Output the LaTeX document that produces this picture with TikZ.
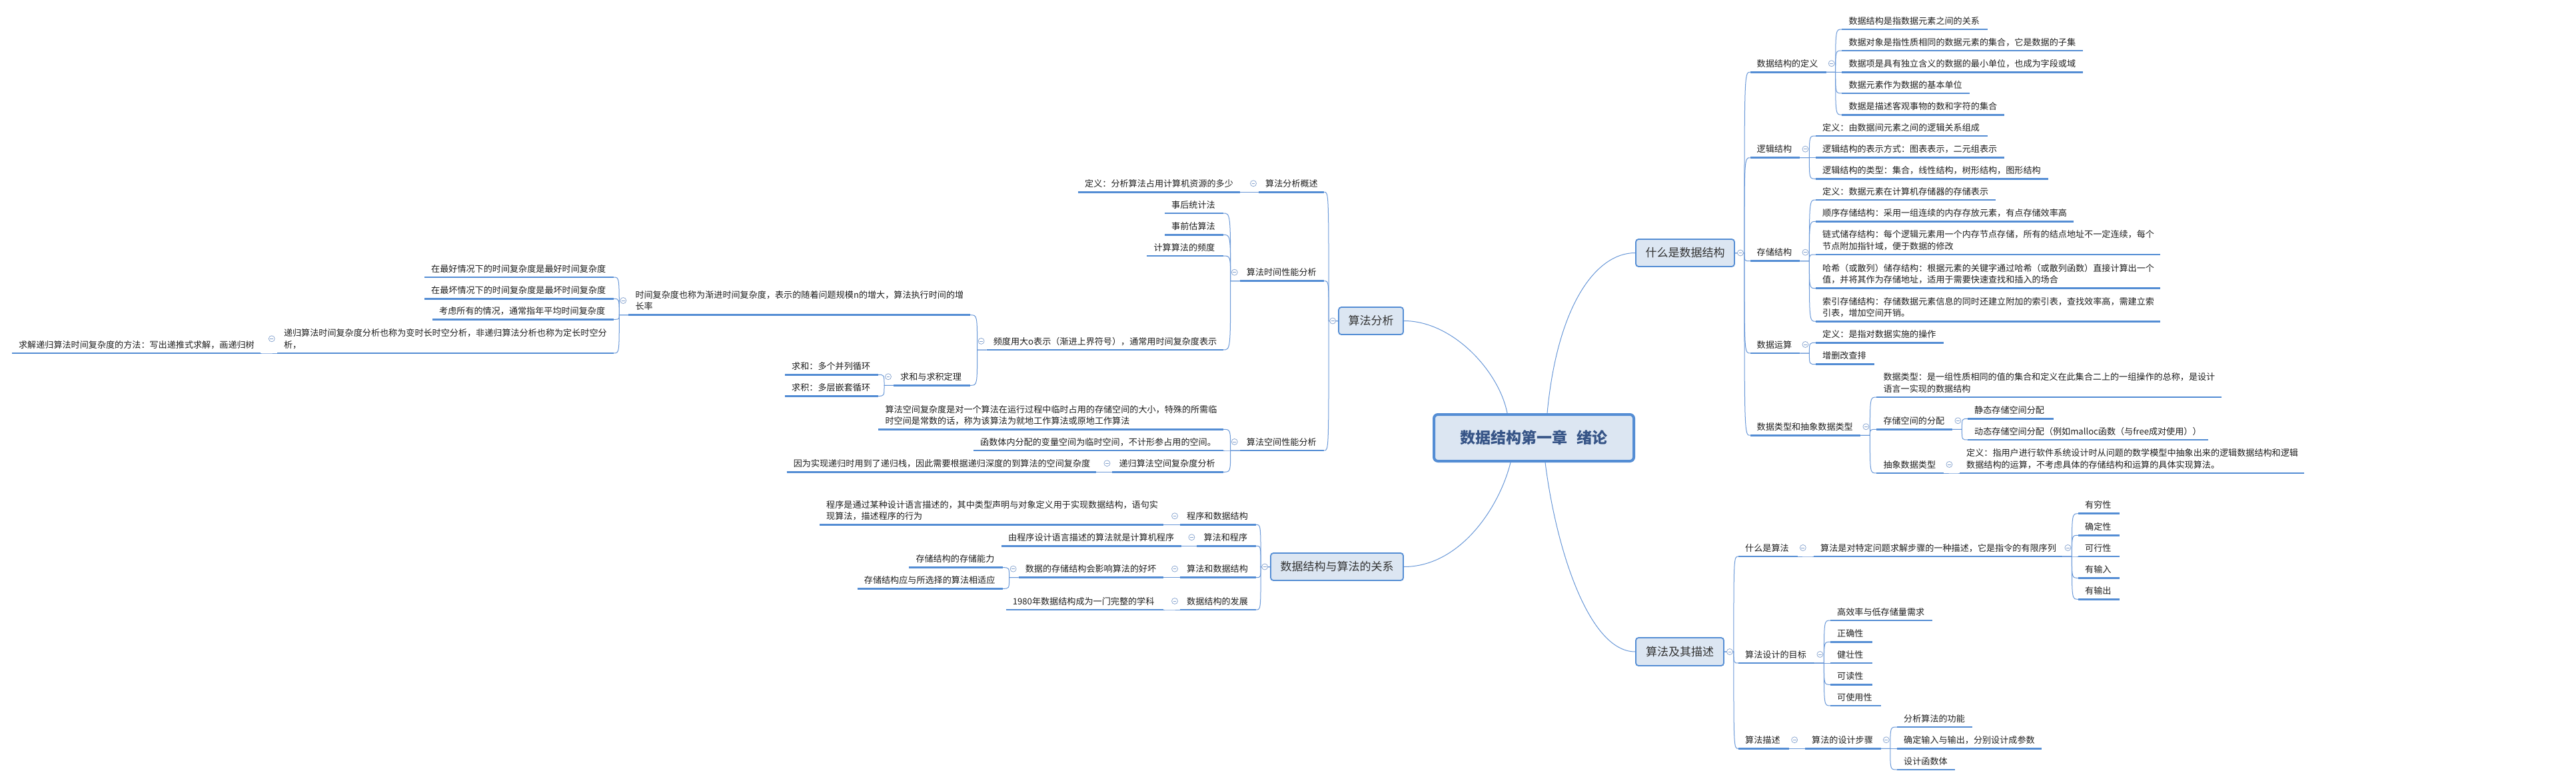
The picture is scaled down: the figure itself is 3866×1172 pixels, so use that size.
\documentclass[tikz,border=0pt]{standalone}
\usepackage{fontspec}
\newfontfamily\cjk{Noto Sans CJK SC}
\usetikzlibrary{calc}
\definecolor{ulc}{RGB}{84,141,212}
\definecolor{lnc}{RGB}{105,152,216}
\definecolor{boxf}{RGB}{220,230,242}
\definecolor{boxd}{RGB}{84,141,212}
\definecolor{ctext}{RGB}{55,85,135}
\definecolor{togc}{RGB}{130,160,205}
\newcommand\leaffont{\cjk\fontsize{13.1}{17.3}\selectfont}
\newcommand\topicfont{\cjk\fontsize{17}{20}\selectfont}
\newcommand\rootfont{\cjk\bfseries\fontsize{23}{26}\selectfont}
\tikzset{
  leaf/.style={anchor=south west, inner xsep=10pt, inner ysep=5pt, align=left,
    font=\leaffont, text=black!88, execute at end node={\rule[-2.6pt]{0pt}{2.6pt}}},
  ul/.style={draw=ulc, line width=2.8pt},
  conn/.style={draw=lnc, line width=1pt},
  topic/.style={draw=boxd, line width=1.8pt, fill=boxf, rounded corners=4pt,
    font=\topicfont, text=black!80, inner sep=0pt},
  root/.style={draw=boxd, line width=4pt, fill=boxf, rounded corners=6pt,
    font=\rootfont, text=ctext, inner sep=0pt},
  tog/.style={circle, draw=togc, line width=0.7pt, fill=white, minimum size=9pt, inner sep=0pt,
    path picture={\draw[togc, line width=0.7pt] ([xshift=-2.4pt]path picture bounding box.center) -- ([xshift=2.4pt]path picture bounding box.center);}}
}
\newcommand\ML[5]{%
  \pgfmathsetmacro\mytw{#3-#2-20}%
  \node[leaf, text width=\mytw pt] (#1) at (#2,#4) {#5};
  \draw[ul] (#1.south west) -- (#1.south east);}
\newcommand\ConR[2]{\draw[conn] (#1) -- ++(14,0) coordinate (tmp) .. controls (tmp |- #2.south west) .. (#2.south west);}
\newcommand\ConL[2]{\draw[conn] (#1) -- ++(-14,0) coordinate (tmp) .. controls (tmp |- #2.south east) .. (#2.south east);}
\newcommand\TogR[2][1pt]{\node[tog] (#2-t) at ([xshift=8pt,yshift=#1]#2.east) {};}
\newcommand\TogL[2][1pt]{\node[tog] (#2-t) at ([xshift=-8pt,yshift=#1]#2.west) {};}
\begin{document}
\begin{tikzpicture}[x=1pt,y=-1pt]
\fill[white] (0,0) rectangle (3866,1172);
\useasboundingbox (0,0) rectangle (3866,1172);

% ---------- topics ----------
\node[root, minimum width=300pt, minimum height=70pt] (c) at (2302,657) {数据结构第一章\hspace{0.6em}绪论};
\node[topic, minimum width=148pt, minimum height=41pt] (wds) at (2529,379.5) {什么是数据结构};
\node[topic, minimum width=97pt, minimum height=41pt] (sa) at (2057.5,481.5) {算法分析};
\node[topic, minimum width=199pt, minimum height=41pt] (rel) at (2006.5,850.5) {数据结构与算法的关系};
\node[topic, minimum width=132pt, minimum height=42pt] (alg) at (2521,978) {算法及其描述};

% ---------- 什么是数据结构 ----------
\ML{n11}{2626.5}{2740.3}{108.3}{数据结构的定义}
\ML{n111}{2764.3}{2983}{44}{数据结构是指数据元素之间的关系}
\ML{n112}{2764.3}{3125.5}{76}{数据对象是指性质相同的数据元素的集合，它是数据的子集}
\ML{n113}{2764.3}{3125.5}{108.3}{数据项是具有独立含义的数据的最小单位，也成为字段或域}
\ML{n114}{2764.3}{2956}{140}{数据元素作为数据的基本单位}
\ML{n115}{2764.3}{3008}{172.3}{数据是描述客观事物的数和字符的集合}
\ML{n12}{2626.5}{2701}{236.7}{逻辑结构}
\ML{n121}{2725}{2983}{204}{定义：由数据间元素之间的逻辑关系组成}
\ML{n122}{2725}{3008}{236.7}{逻辑结构的表示方式：图表表示，二元组表示}
\ML{n123}{2725}{3073.5}{268.3}{逻辑结构的类型：集合，线性结构，树形结构，图形结构}
\ML{n13}{2626.5}{2701}{391.7}{存储结构}
\ML{n131}{2725}{2995}{300}{定义：数据元素在计算机存储器的存储表示}
\ML{n132}{2725}{3112}{332.3}{顺序存储结构：采用一组连续的内存存放元素，有点存储效率高}
\ML{n133}{2725}{3242}{382}{链式储存结构：每个逻辑元素用一个内存节点存储，所有的结点地址不一定连续，每个\\节点附加指针域，便于数据的修改}
\ML{n134}{2725}{3242}{432.7}{哈希（或散列）储存结构：根据元素的关键字通过哈希（或散列函数）直接计算出一个\\值，并将其作为存储地址，适用于需要快速查找和插入的场合}
\ML{n135}{2725}{3242}{482.3}{索引存储结构：存储数据元素信息的同时还建立附加的索引表，查找效率高，需建立索\\引表，增加空间开销。}
\ML{n14}{2626.5}{2701}{530}{数据运算}
\ML{n141}{2725}{2917}{514.3}{定义：是指对数据实施的操作}
\ML{n142}{2725}{2813}{546.7}{增删改查排}
\ML{n15}{2626.5}{2792}{653.3}{数据类型和抽象数据类型}
\ML{n151}{2816.3}{3333.5}{596}{数据类型：是一组性质相同的值的集合和定义在此集合二上的一组操作的总称，是设计\\语言一实现的数据结构}
\ML{n152}{2816.3}{2930}{644.3}{存储空间的分配}
\ML{n1521}{2953}{3081.6}{628.3}{静态存储空间分配}
\ML{n1522}{2953}{3314}{660}{动态存储空间分配（例如malloc函数（与free成对使用））}
\ML{n153}{2816.3}{2917}{710}{抽象数据类型}
\ML{n1531}{2941}{3458}{710}{定义：指用户进行软件系统设计时从问题的数学模型中抽象出来的逻辑数据结构和逻辑\\数据结构的运算，不考虑具体的存储结构和运算的具体实现算法。}

% ---------- 算法及其描述 ----------
\ML{n21}{2609}{2697.4}{835}{什么是算法}
\ML{n211}{2722}{3095}{835}{算法是对特定问题求解步骤的一种描述，它是指令的有限序列}
\ML{n2111}{3119}{3181}{770.7}{有穷性}
\ML{n2112}{3119}{3181}{803.3}{确定性}
\ML{n2113}{3119}{3181}{835}{可行性}
\ML{n2114}{3119}{3181}{867.3}{有输入}
\ML{n2115}{3119}{3181}{899.3}{有输出}
\ML{n22}{2609}{2723}{995}{算法设计的目标}
\ML{n221}{2747}{2900}{931}{高效率与低存储量需求}
\ML{n222}{2747}{2809.7}{963.3}{正确性}
\ML{n223}{2747}{2809.7}{995}{健壮性}
\ML{n224}{2747}{2809.7}{1027.3}{可读性}
\ML{n225}{2747}{2822.4}{1059}{可使用性}
\ML{n23}{2609}{2684.7}{1123.3}{算法描述}
\ML{n231}{2709}{2822.4}{1123.3}{算法的设计步骤}
\ML{n2311}{2847}{2960}{1091}{分析算法的功能}
\ML{n2312}{2847}{3063.8}{1123.3}{确定输入与输出，分别设计成参数}
\ML{n2313}{2847}{2933.7}{1155}{设计函数体}

% ---------- 算法分析 ----------
\ML{m1}{1889}{1987}{288.3}{算法分析概述}
\ML{m11}{1618}{1860.7}{288.3}{定义：分析算法占用计算机资源的多少}
\ML{m2}{1860.7}{1987}{421.7}{算法时间性能分析}
\ML{m21}{1748}{1835.2}{320}{事后统计法}
\ML{m22}{1748}{1835.2}{352.3}{事前估算法}
\ML{m23}{1721.4}{1835.2}{384}{计算算法的频度}
\ML{m24}{1480.6}{1835.2}{525}{频度用大o表示（渐进上界符号），通常用时间复杂度表示}
\ML{m241}{943.3}{1455.8}{472.7}{时间复杂度也称为渐进时间复杂度，表示的随着问题规模n的增大，算法执行时间的增\\长率}
\ML{m2411}{637}{920.5}{416}{在最好情况下的时间复杂度是最好时间复杂度}
\ML{m2412}{637}{920.5}{448.3}{在最坏情况下的时间复杂度是最坏时间复杂度}
\ML{m2413}{649}{920.5}{479.3}{考虑所有的情况，通常指年平均时间复杂度}
\ML{m2414}{415.8}{920.5}{530}{递归算法时间复杂度分析也称为变时长时空分析，非递归算法分析也称为定长时空分\\析，}
\ML{m24141}{17.9}{390.3}{530}{求解递归算法时间复杂度的方法：写出递推式求解，画递归树}
\ML{m242}{1341}{1455.8}{578.3}{求和与求积定理}
\ML{m2421}{1178}{1317.3}{562.3}{求和：多个并列循环}
\ML{m2422}{1178}{1317.3}{594.3}{求积：多层嵌套循环}
\ML{m3}{1860.7}{1987}{676}{算法空间性能分析}
\ML{m31}{1318.4}{1835.2}{644.3}{算法空间复杂度是对一个算法在运行过程中临时占用的存储空间的大小，特殊的所需临\\时空间是常数的话，称为该算法为就地工作算法或原地工作算法}
\ML{m32}{1461}{1835.2}{676}{函数体内分配的变量空间为临时空间，不计形参占用的空间。}
\ML{m33}{1669.4}{1835.2}{708.3}{递归算法空间复杂度分析}
\ML{m331}{1180.6}{1645}{708.3}{因为实现递归时用到了递归栈，因此需要根据递归深度的到算法的空间复杂度}

% ---------- 数据结构与算法的关系 ----------
\ML{r1}{1771}{1884.7}{787.3}{程序和数据结构}
\ML{r11}{1230}{1746}{787.3}{程序是通过某种设计语言描述的，其中类型声明与对象定义用于实现数据结构，语句实\\现算法，描述程序的行为}
\ML{r2}{1796.4}{1884.7}{819.3}{算法和程序}
\ML{r21}{1503}{1772.4}{819.3}{由程序设计语言描述的算法就是计算机程序}
\ML{r3}{1771}{1884.7}{866.7}{算法和数据结构}
\ML{r31}{1528.6}{1746}{866.7}{数据的存储结构会影响算法的好坏}
\ML{r311}{1364.3}{1504.6}{851.7}{存储结构的存储能力}
\ML{r312}{1286.7}{1504.6}{883.3}{存储结构应与所选择的算法相适应}
\ML{r4}{1771}{1884.7}{915}{数据结构的发展}
\ML{r41}{1509.7}{1746}{915}{1980年数据结构成为一门完整的学科}

% ---------- connectors from root ----------
\draw[conn] ([xshift=20pt]c.north) .. controls +(15,-160) and +(-60,0) .. (wds.west);
\draw[conn] (sa.east) .. controls +(74,0) and +(-12,-62) .. ([xshift=-40pt]c.north);
\draw[conn] (rel.east) .. controls +(84,0) and +(-17,68) .. ([xshift=-35pt]c.south);
\draw[conn] ([xshift=17pt]c.south) .. controls +(16,128) and +(-70,0) .. (alg.west);

% ---------- right connectors ----------
\foreach \k in {n11,n12,n13,n14,n15} {\ConR{wds.east}{\k}}
\foreach \k in {n111,n112,n113,n114,n115} {\ConR{n11.south east}{\k}}
\foreach \k in {n121,n122,n123} {\ConR{n12.south east}{\k}}
\foreach \k in {n131,n132,n133,n134,n135} {\ConR{n13.south east}{\k}}
\foreach \k in {n141,n142} {\ConR{n14.south east}{\k}}
\foreach \k in {n151,n152,n153} {\ConR{n15.south east}{\k}}
\foreach \k in {n1521,n1522} {\ConR{n152.south east}{\k}}
\ConR{n153.south east}{n1531}
\foreach \k in {n21,n22,n23} {\ConR{alg.east}{\k}}
\ConR{n21.south east}{n211}
\foreach \k in {n2111,n2112,n2113,n2114,n2115} {\ConR{n211.south east}{\k}}
\foreach \k in {n221,n222,n223,n224,n225} {\ConR{n22.south east}{\k}}
\ConR{n23.south east}{n231}
\foreach \k in {n2311,n2312,n2313} {\ConR{n231.south east}{\k}}

% ---------- left connectors ----------
\foreach \k in {m1,m2,m3} {\ConL{sa.west}{\k}}
\ConL{m1.south west}{m11}
\foreach \k in {m21,m22,m23,m24} {\ConL{m2.south west}{\k}}
\foreach \k in {m241,m242} {\ConL{m24.south west}{\k}}
\foreach \k in {m2411,m2412,m2413,m2414} {\ConL{m241.south west}{\k}}
\ConL{m2414.south west}{m24141}
\foreach \k in {m2421,m2422} {\ConL{m242.south west}{\k}}
\foreach \k in {m31,m32,m33} {\ConL{m3.south west}{\k}}
\ConL{m33.south west}{m331}
\foreach \k in {r1,r2,r3,r4} {\ConL{rel.west}{\k}}
\ConL{r1.south west}{r11}
\ConL{r2.south west}{r21}
\ConL{r3.south west}{r31}
\foreach \k in {r311,r312} {\ConL{r31.south west}{\k}}
\ConL{r4.south west}{r41}

% ---------- collapse icons ----------
\TogR[0pt]{wds}
\TogR[0pt]{alg}
\TogL[0pt]{sa}
\TogL[0pt]{rel}
\foreach \k in {n11,n12,n13,n14,n15,n152,n153,n21,n211,n22,n23,n231} {\TogR{\k}}
\foreach \k in {m1,m2,m24,m241,m2414,m242,m3,m33,r1,r2,r3,r31,r4} {\TogL{\k}}
\end{tikzpicture}
\end{document}
